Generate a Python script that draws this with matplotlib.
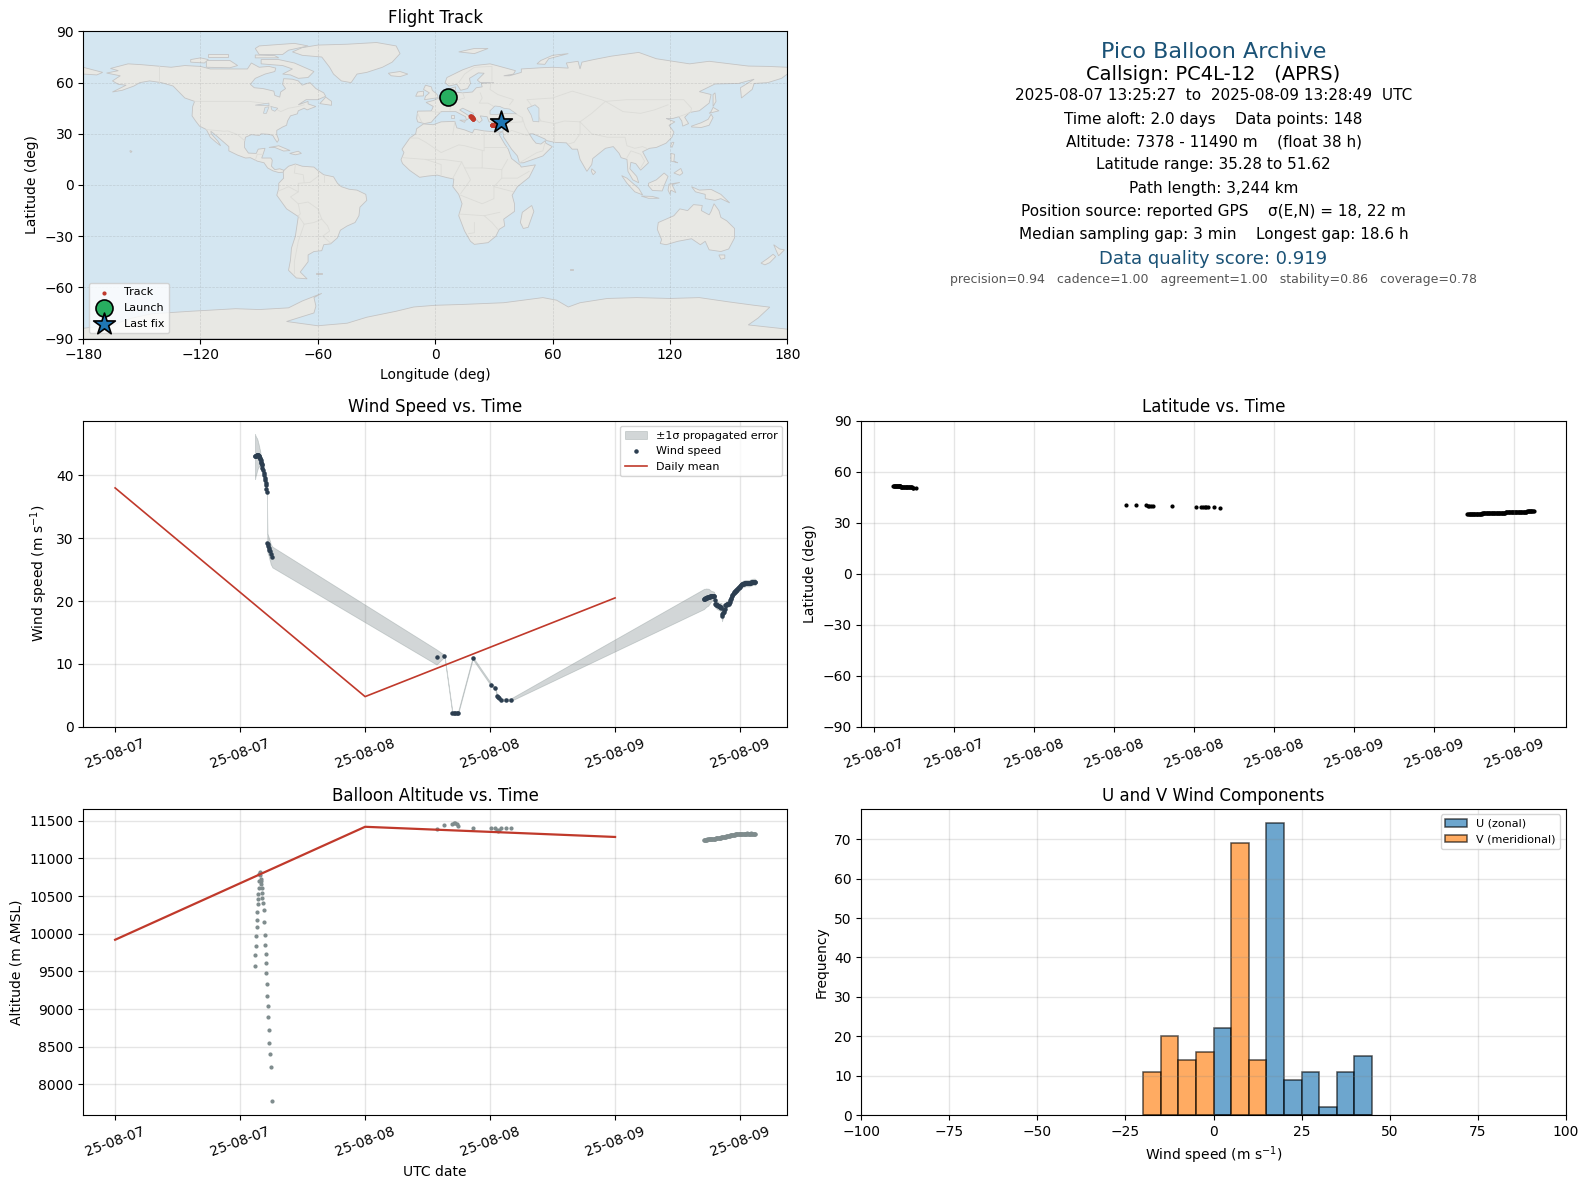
import numpy as np
import matplotlib
matplotlib.use("Agg")
import matplotlib.pyplot as plt
import matplotlib.dates as mdates
from matplotlib.patches import Polygon

# ---------- flight data (hours after 2025-08-07 00:00 UTC) ----------
hours_ascent = [13.43,13.46,13.49,13.53,13.58,13.62,13.66,13.70,13.73,13.76,13.80,13.83,13.86,13.90,
    13.93,13.96,14.00,14.03,14.06,14.10,14.15,14.20,14.25,14.30,14.35,14.40,14.44,14.48,14.52,14.57,
    14.62,14.67,14.72,14.77,14.82,14.88,14.93,15.10]
hours_mid = [30.86,31.62,32.38,32.50,32.62,32.78,32.92,34.33,36.10,36.48,36.68,36.80,36.90,37.05,37.50,37.97]
hours_float = [56.50,56.55,56.61,56.66,56.71,56.77,56.82,56.87,56.93,56.98,57.03,57.09,57.14,57.19,57.25,57.30,57.35,57.41,57.46,57.51,
    57.57,57.62,57.67,57.73,57.78,57.83,57.89,57.94,57.99,58.05,58.10,58.15,58.21,58.26,58.31,58.37,58.42,58.47,58.53,58.58,
    58.63,58.69,58.74,58.79,58.85,58.90,58.95,59.01,59.06,59.11,59.17,59.22,59.27,59.33,59.38,59.43,59.49,59.54,59.59,59.65,
    59.70,59.75,59.81,59.86,59.91,59.97,60.02,60.07,60.13,60.18,60.23,60.29,60.34,60.39,60.45,60.50,60.55,60.61,60.66,60.71,
    60.77,60.82,60.87,60.93,60.98,61.03,61.09,61.14,61.19,61.25,61.30,61.35,61.41,61.47]

wind_ascent = [43.0,43.0,43.1,43.1,43.2,43.3,43.3,43.3,43.2,43.2,43.1,43.0,42.9,42.8,42.6,42.4,42.2,42.0,41.8,41.6,41.2,40.8,40.4,40.0,
    39.6,39.2,38.8,38.4,37.9,37.4,29.3,29.0,28.8,28.5,28.2,27.9,27.5,27.0]
wind_mid = [11.1,11.27,2.2,2.2,2.15,2.2,2.2,10.95,6.7,6.2,4.9,4.7,4.5,4.29,4.29,4.29]
wind_float = [20.3,20.35,20.4,20.45,20.5,20.55,20.55,20.6,20.6,20.65,20.7,20.7,20.75,20.75,20.8,20.8,20.85,20.85,20.8,20.75,
    20.2,19.6,19.5,19.4,19.35,19.3,19.25,19.2,19.15,19.1,19.05,19.0,18.9,17.7,17.9,18.1,18.3,18.5,18.8,19.3,
    19.4,19.45,19.5,19.55,19.6,19.6,19.65,19.8,20.1,20.4,20.5,20.8,21.0,21.2,21.3,21.4,21.5,21.55,21.6,21.7,
    21.8,21.9,22.0,22.1,22.2,22.3,22.4,22.5,22.6,22.65,22.7,22.75,22.75,22.8,22.8,22.85,22.85,22.85,22.85,22.85,
    22.85,22.8,22.85,22.9,22.9,22.95,23.0,23.0,23.05,23.05,23.07,23.07,23.05,23.0]

sigma_ascent = [3.6,3.4,3.2,3.0,2.8,2.6,2.4,2.2,2.0,1.9,1.7,1.6,1.4,1.3,1.2,1.1,1.0,0.9,0.8,0.7,0.6,0.5,0.45,0.4,0.35,0.3,0.3,0.3,0.3,0.3,
    1.5,1.5,1.5,1.5,1.6,1.6,1.6,1.65]
sigma_mid = [1.2,0.15,0.2,0.2,0.2,0.2,0.2,0.2,0.2,0.2,0.2,0.2,0.2,0.2,0.2,0.2]
sigma_float = [1.6,1.6,1.55,1.5,1.5,1.45,1.4,1.4,1.35,1.3,1.2,1.1,1.0,0.9,0.8,0.8,0.7,0.7,0.7,0.7,
    0.6,0.6,0.6,0.6,0.6,0.6,0.6,0.6,0.6,0.6,0.6,0.7,0.8,0.9,0.8,0.7,0.6,0.5,0.5,0.5,
    0.5,0.5,0.5,0.5,0.5,0.5,0.5,0.5,0.5,0.5,0.5,0.5,0.5,0.5,0.5,0.5,0.5,0.5,0.5,0.5,
    0.5,0.5,0.5,0.5,0.5,0.5,0.5,0.5,0.5,0.5,0.5,0.5,0.5,0.5,0.5,0.5,0.5,0.5,0.5,0.5,
    0.5,0.5,0.5,0.5,0.5,0.5,0.5,0.5,0.5,0.5,0.5,0.5,0.5,0.5]

alt_ascent = [9569,9715,9835,9968,10088,10181,10287,10394,10460,10527,10606,10700,10793,10824,
    10779,10730,10700,10660,10606,10540,10473,10407,10314,10154,9981,9848,9729,9609,9476,9330,9170,9037,8891,8718,8545,8399,8226,7778]
alt_mid = [11385,11442,11455,11469,11473,11455,11429,11403,11403,11403,11380,11358,11376,11403,11403,11403]
alt_float = [11245,11245,11248,11250,11248,11250,11252,11250,11252,11255,11253,11255,11257,11258,11256,11258,11260,11260,11262,11264,
    11262,11264,11266,11268,11266,11268,11270,11272,11270,11272,11274,11276,11278,11280,11278,11282,11284,11286,11288,11290,
    11290,11292,11294,11296,11298,11300,11302,11304,11306,11308,11308,11310,11312,11310,11314,11316,11318,11316,11320,11322,
    11320,11322,11324,11322,11324,11326,11328,11326,11328,11330,11326,11324,11326,11328,11326,11324,11326,11328,11330,11332,
    11330,11328,11326,11328,11330,11332,11330,11328,11326,11328,11326,11328,11326,11324]

lat_ascent = [51.62,51.60,51.58,51.56,51.55,51.53,51.50,51.48,51.47,51.45,51.43,51.40,51.38,51.35,51.33,51.30,51.28,51.25,51.23,51.20,
    51.18,51.15,51.12,51.10,51.07,51.05,51.02,51.00,50.97,50.94,50.90,50.86,50.82,50.78,50.72,50.66,50.60,50.45]
lat_mid = [40.6,40.5,40.15,40.1,40.05,40.0,39.95,39.6,39.1,39.05,39.0,38.95,38.95,39.0,38.95,38.9]
lat_float = [35.30,35.28,35.28,35.29,35.30,35.30,35.31,35.31,35.32,35.32,35.33,35.33,35.34,35.35,35.35,35.36,35.37,35.37,35.38,35.39,
    35.40,35.41,35.42,35.43,35.44,35.45,35.46,35.47,35.48,35.50,35.52,35.54,35.56,35.58,35.60,35.62,35.64,35.66,35.68,35.70,
    35.72,35.74,35.76,35.78,35.80,35.82,35.84,35.86,35.88,35.90,35.92,35.94,35.96,35.98,36.00,36.02,36.04,36.06,36.08,36.10,
    36.12,36.14,36.16,36.18,36.20,36.22,36.24,36.26,36.28,36.30,36.32,36.34,36.36,36.38,36.40,36.42,36.44,36.46,36.48,36.50,
    36.52,36.54,36.56,36.58,36.60,36.62,36.64,36.66,36.68,36.70,36.72,36.74,36.76,36.78]

lon_ascent = [6.7,6.75,6.8,6.85,6.9,6.95,7.0,7.05,7.1,7.15,7.2,7.25,7.3,7.35,7.4,7.45,7.5,7.55,7.6,7.65,7.7,7.75,7.8,7.85,
    7.9,7.95,8.0,8.05,8.1,8.15,8.2,8.3,8.4,8.5,8.6,8.7,8.8,9.0]
lon_mid = [18.0,18.2,18.4,18.5,18.5,18.6,18.6,18.8,19.0,19.0,19.1,19.1,19.1,19.2,19.2,19.3]
lon_float = [29.0,29.05,29.1,29.15,29.2,29.25,29.3,29.35,29.4,29.45,29.5,29.55,29.6,29.65,29.7,29.75,29.8,29.85,29.9,29.95,
    30.0,30.05,30.1,30.15,30.2,30.25,30.3,30.35,30.4,30.45,30.5,30.55,30.6,30.65,30.7,30.75,30.8,30.85,30.9,30.95,
    31.0,31.05,31.1,31.15,31.2,31.25,31.3,31.35,31.4,31.45,31.5,31.55,31.6,31.65,31.7,31.75,31.8,31.85,31.9,31.95,
    32.0,32.05,32.1,32.15,32.2,32.25,32.3,32.35,32.4,32.45,32.5,32.55,32.6,32.65,32.7,32.75,32.8,32.85,32.9,32.95,
    33.0,33.05,33.1,33.15,33.2,33.25,33.3,33.35,33.4,33.45,33.5,33.55,33.6,33.7]

daily_dates = ["2025-08-07", "2025-08-08", "2025-08-09"]
daily_wind = [38.0, 4.8, 20.5]
daily_alt = [9920, 11420, 11285]

hist_edges = [-20,-15,-10,-5,0,5,10,15,20,25,30,35,40,45]
hist_u = [0,0,0,0,22,0,0,74,9,11,2,11,15]
hist_v = [11,20,14,16,0,69,14,0,0,0,0,0,0]

summary_lines = [
    ("Pico Balloon Archive", 16, "#1a5276", 51.5),
    ("Callsign: PC4L-12   (APRS)", 14, "black", 73.5),
    ("2025-08-07 13:25:27  to  2025-08-09 13:28:49  UTC", 11, "black", 94.5),
    ("Time aloft: 2.0 days    Data points: 148", 11, "black", 117.5),
    ("Altitude: 7378 - 11490 m    (float 38 h)", 11, "black", 140.5),
    ("Latitude range: 35.28 to 51.62", 11, "black", 162.5),
    ("Path length: 3,244 km", 11, "black", 185.5),
    ("Position source: reported GPS    σ(E,N) = 18, 22 m", 11, "black", 208.5),
    ("Median sampling gap: 3 min    Longest gap: 18.6 h", 11, "black", 231.5),
    ("Data quality score: 0.919", 13, "#1a5276", 255.5),
    ("precision=0.94   cadence=1.00   agreement=1.00   stability=0.86   coverage=0.78", 9, "#555555", 275.5),
]

# ---------- coarse world outlines (lon, lat) ----------
north_america = [(-168,65.6),(-162,67),(-166,68.3),(-157,71),(-150,70.5),(-141,69.6),(-135,69),(-128,70),(-120,69.5),(-115,68),(-108,68),(-100,68),(-96,68),(-94,71.5),(-90,69),(-85,69.5),(-81.5,68.5),(-82,66.5),(-87,65),(-92,62.5),(-94.5,59),(-92.5,57),(-88,56.5),(-82.5,55),(-82,52.5),(-79.5,51.5),(-79,54.5),(-76.5,56.5),(-78,59),(-77.5,62.3),(-73,62),(-70,61),(-68,58.5),(-65.5,59.5),(-64,60),(-61,56.5),(-57,54),(-56,52),(-60,50),(-66,50),(-70,47),(-65,49),(-65,47.5),(-61,46),(-65.5,44),(-67,45),(-70,43.5),(-70.5,41.7),(-74,40.5),(-75.5,37.5),(-76,35),(-78,34),(-81,32),(-81,29.5),(-80,26.5),(-80.8,25),(-82,27),(-83,29),(-85,29.7),(-89,30),(-90,29),(-94,29.5),(-97,28),(-97.5,25),(-97.5,22),(-95.5,18.7),(-91.5,18.5),(-90.5,21),(-87,21.5),(-88,18),(-88.7,15.8),(-84,15.8),(-83.3,14.5),(-83.7,11),(-82,9),(-79.5,9.5),(-77.3,8.6),(-77.7,7.5),(-80,7.3),(-83,8.3),(-85.7,10),(-87.5,13),(-91,14),(-94.5,16),(-97,15.8),(-101,17.5),(-105.5,20),(-105.5,22.5),(-109,26),(-112.5,29.5),(-114.7,31.5),(-114.5,30),(-111,25.5),(-109.7,23),(-112,25),(-115,28),(-117,32.5),(-120.5,34.5),(-122.5,37.5),(-124.3,40.5),(-124,46),(-123,49),(-128,51),(-131,54.5),(-134,58),(-140,60),(-146,61),(-151,60),(-154,58),(-160,55.5),(-165,54.5),(-158,58.5),(-162,59),(-165,61),(-161,64)]
greenland = [(-73,78),(-68,80.5),(-60,82),(-45,82.5),(-30,83.5),(-20,81.5),(-18,77),(-22,72),(-27,69),(-35,66),(-40,65),(-43,60),(-48,61),(-52,65),(-54,69),(-58,75),(-68,76)]
baffin = [(-80,73.5),(-72,71.5),(-67,69),(-62,66.5),(-65,63),(-70,62.5),(-74,64.5),(-78,65),(-73,68),(-78,70),(-89,71),(-89,73.5)]
ellesmere = [(-90,76.5),(-78,76.5),(-75,79),(-65,81.5),(-72,83),(-90,81.5),(-92,80)]
victoria = [(-117,69),(-105,68.7),(-101,70),(-105,73),(-117,73)]
banks = [(-125,72),(-118,71.5),(-116,73.5),(-120,74.5),(-125,73.5)]
devon = [(-92,74.5),(-80,74.5),(-82,75.8),(-92,76.2)]
melville = [(-116,75),(-106,75),(-106,76.5),(-116,76.5)]
newfoundland = [(-59,47.7),(-53,46.7),(-53,49),(-56,51.5)]
cuba = [(-85,22),(-80,23),(-74.2,20.2),(-77.5,19.9),(-82,22)]
hispaniola = [(-74.4,18.5),(-70,19.8),(-68.4,18.5),(-71.5,17.7)]
hawaii = [(-156,20.2),(-155,19.7),(-155.6,19),(-156,19.5)]
south_america = [(-77.3,8.6),(-75,11),(-71.5,12.3),(-68,11),(-62,10.5),(-60,8.5),(-57,6),(-52,4.8),(-50,1),(-48,-1),(-44,-2.5),(-40,-3),(-35.5,-5.5),(-35,-9),(-38.5,-13),(-39,-18),(-41,-22),(-45,-24),(-48.5,-26.5),(-50,-31),(-53.5,-34.5),(-57,-35),(-58,-38.5),(-62,-39),(-65,-41),(-65,-45),(-69,-51),(-65.5,-55),(-71,-54.5),(-75,-50),(-74,-44),(-73.5,-37),(-71.5,-30),(-70,-18.5),(-76,-14),(-81,-6),(-80,-2),(-80,1),(-77.5,4),(-77.7,7.5)]
falklands = [(-61,-51.5),(-58,-51.5),(-58,-52.3),(-61,-52.3)]
africa = [(-6,35.8),(-1,35.3),(3,37),(10,37.3),(11,33.5),(15,32.3),(19,30.5),(20,32.7),(25,31.7),(32,31),(34.3,31.3),(32.5,29.9),(35.5,24),(37.3,21),(39,15.5),(43.3,11.7),(44,10.5),(51.2,11.8),(48,4.5),(42,-1),(39.3,-6),(40.5,-11),(40.5,-15.5),(35,-20),(35.5,-24),(32.7,-26),(31,-30),(27,-33.8),(20,-34.8),(18,-33),(15,-27),(12,-18),(13.7,-11),(12,-5.5),(9,-1),(9.5,3.5),(6,4.3),(1,5.8),(-4,5.2),(-8,4.5),(-13,8.5),(-16.7,12.5),(-17.5,14.8),(-16,19),(-17,21),(-13,27.5),(-10,30),(-9.5,33)]
madagascar = [(49.3,-12),(50.4,-15.5),(47.5,-24.8),(45,-25.5),(43.5,-22),(44.5,-16)]
eurasia = [(-9,37),(-9.5,39),(-9,43.3),(-2,43.4),(-1,46),(-4.7,48.4),(-1,49.5),(2,51),(4,52),(8,54),(8.5,57),(10.5,57.5),(10,54.5),(14,54),(19,54.5),(21,57),(24,57.5),(23.5,59.5),(30,60),(23,60),(21.5,61.5),(25,65.5),(22,65.7),(17.5,62.5),(18,59.5),(16.5,56.5),(13,55.5),(11,59),(7,58),(5,60),(6,63),(14,67.5),(20,70),(28,71),(32,69.8),(41,67),(40,65),(35,64),(38,64),(44,66),(44,68),(54,68.7),(60,69),(68,68.5),(67,71.5),(73,72.5),(74,68),(75,72),(81,73.5),(90,75.5),(104,77.7),(113,74),(130,71),(140,72.5),(160,69.7),(170,69.5),(180,69),(180,65),(177,62.5),(170,60),(163,59.5),(162,56),(156.5,51),(156,57),(163,62),(155,59.5),(143,59.2),(135,54.7),(141,53),(140,48),(135,43.5),(130,42.5),(127.5,39.7),(129.5,36),(126.5,34.5),(126,37.5),(124.5,40),(121.5,39),(118,39),(122.5,37),(119.5,35),(122,31),(121,28),(118,24.5),(113,22),(109.5,21.5),(106,19.5),(109,13),(105,8.7),(102.5,12.5),(100,13.3),(99.5,9.5),(103,5),(104,1.3),(101,3),(98.5,8),(98,15),(95,16),(94,18.5),(91,22.5),(87,21.5),(80.5,15.5),(80,12),(77.5,8),(74,15),(72.7,21),(70,21),(67,24.7),(61,25),(57,26),(56,27),(50,30),(48,30),(50,26.5),(51.5,24.5),(54,24),(56.3,26),(56.5,24.5),(59.8,22.5),(55,17),(45,13),(43,13),(42,17),(39,21),(35,28),(34.5,31.5),(36,36),(32,36),(27.5,37),(26.5,40),(23,40.5),(24,38),(22.5,36.5),(20,39.5),(19.5,42),(14,45),(12.5,44),(18,40),(16,38),(15.5,40),(10.5,43),(6,43),(3,43),(0,39.5),(-2,36.8),(-5.5,36)]
chukotka_west = [(-180,69),(-170,66),(-173,64.5),(-180,65)]
britain = [(-5.5,50),(1.5,51.2),(1,53),(-1.5,55.5),(-2,57.5),(-5,58.5),(-6,56),(-3,54),(-5,52)]
ireland = [(-10,52),(-6,52.2),(-6,55),(-9,54.5)]
iceland = [(-24,65.5),(-18,66.5),(-14,65),(-18,63.5),(-22.5,64)]
svalbard = [(12,78),(20,80),(27,80),(20,77)]
novaya_zemlya = [(52,71),(56,70.7),(58,74),(68,77),(60,76),(54,73)]
sakhalin = [(142,46),(143.5,49),(143,54),(142,53),(142,48)]
honshu = [(131,34),(136,33.7),(140,35),(142,39.5),(141,41.5),(139.5,38.5),(136,36.5),(131,34.5)]
hokkaido = [(140,42),(145,43.5),(142,45.5),(141,43)]
taiwan = [(120.3,23),(121,22),(122,25),(121,25)]
sri_lanka = [(80,9.5),(82,7.5),(80.7,6),(79.8,8)]
sumatra = [(95.3,5.5),(98,4),(104,-2),(106,-5.8),(102,-4),(98,1)]
java = [(105.3,-6.5),(111,-6.7),(114.5,-7.8),(109,-7.8)]
borneo = [(109,1),(113,3),(117,7),(119,5),(117.5,1),(116,-3.5),(111,-3.2),(109,-0.5)]
sulawesi = [(119.5,0.5),(125,1.5),(121,0.2),(123,-4.5),(120.5,-3),(120,-5.5),(119,-3)]
luzon = [(120.5,18.5),(122.3,18),(122,14),(124,13),(120.5,14)]
mindanao = [(122,7),(125.5,9.7),(126.5,7),(125,5.7)]
new_guinea = [(131,-1),(135,-3),(141,-2.6),(146,-5.5),(150.5,-10.5),(146,-8),(143,-9),(138,-8),(138,-5.5),(133,-4)]
australia = [(114,-22),(113.5,-26),(115.7,-32),(115,-34.3),(118,-35),(124,-33),(131,-31.5),(135.5,-35),(138,-33),(140,-38),(146,-39),(150,-37.5),(153,-31),(153,-25.5),(149,-21),(146,-19),(145,-15),(142.5,-11),(141,-15.5),(140,-17.5),(136,-15),(136.5,-12),(132,-11.5),(129,-15),(125,-14),(122,-18)]
tasmania = [(145,-41),(148,-41),(148,-43),(146,-43.5)]
nz_north = [(173,-35),(176,-37.5),(178.5,-38),(175.5,-41.5),(174.5,-39)]
nz_south = [(172.7,-40.6),(174,-42),(171,-45.5),(168.5,-46.8),(166.5,-45.8),(170,-43)]
kerguelen = [(69,-49),(70.5,-49),(70.5,-49.8),(69,-49.8)]
sardinia = [(8.2,39),(9.7,39),(9.7,41),(8.2,41)]
sicily = [(12.5,38),(15.5,38),(15,36.7)]
antarctica = [(-180,-90),(-180,-84),(-165,-82),(-155,-78),(-145,-75.5),(-125,-74),(-102,-72.5),(-90,-73),(-75,-72),(-68,-68),(-58,-63.5),(-62,-66),(-61,-71),(-62,-75),(-76,-80),(-60,-82.5),(-45,-81),(-35,-77.5),(-20,-74),(-11,-71.5),(0,-70.5),(14,-70),(35,-69),(55,-66),(62,-67.5),(68,-71.5),(74,-69),(88,-66.5),(103,-66),(120,-66.5),(135,-66),(150,-68.5),(163,-70.5),(171,-71.6),(165,-78),(160,-82),(176,-84),(180,-84.5),(180,-90)]
land_polygons = [north_america,greenland,baffin,ellesmere,victoria,banks,devon,melville,newfoundland,cuba,hispaniola,hawaii,
    south_america,falklands,africa,madagascar,eurasia,chukotka_west,britain,ireland,iceland,svalbard,novaya_zemlya,sakhalin,honshu,hokkaido,
    taiwan,sri_lanka,sumatra,java,borneo,sulawesi,luzon,mindanao,new_guinea,australia,tasmania,nz_north,nz_south,kerguelen,sardinia,sicily,antarctica]
black_sea = [(28,41.5),(31,41.2),(35,42),(41.5,41.7),(38,44.5),(35,45),(33,46),(30.5,46.3),(28,43.5)]
caspian = [(47,45),(51,47),(53,45),(53,37),(50,37.3),(49,41)]
lake_superior = [(-92,46.8),(-85,48),(-85,46.5)]
lake_michigan = [(-87.8,42),(-86.3,42),(-85,45.8),(-87,45.5)]
lake_huron = [(-84,46),(-80.5,45),(-82,43.2),(-83.5,44)]
water_polygons = [black_sea,caspian,lake_superior,lake_michigan,lake_huron]
borders = [
    [(-123,49),(-95,49),(-88,48),(-82,45),(-79,43),(-75,45),(-70,46),(-67,47)],[(-141,69.6),(-141,60)],
    [(-117,32.5),(-108,31.5),(-106,31.7),(-101,29.5),(-97.5,26)],[(-92,14.5),(-91,18),(-88,18)],
    [(-60,5),(-64,1.5),(-70,1),(-70,-4),(-74,-7),(-70,-11),(-65,-10),(-60,-14),(-58,-20),(-55,-24),(-54,-27),(-57.5,-30),(-53.5,-34)],
    [(-70,-18),(-67,-23),(-70,-33),(-72,-45),(-72,-52)],[(-71.5,12),(-72,7),(-67.5,6),(-67,1.5)],[(-80,-3.5),(-75,-1),(-70,-4)],[(-70,-11),(-69,-17),(-70,-18)],
    [(-60,8.5),(-60,5)],[(-58,-20),(-62,-22),(-67,-23)],[(-57,6),(-57,2)],
    [(-13,27.5),(-8.7,27.5),(-4.8,25),(3,19),(12,23.5),(15,23),(25,20),(25,31.7)],[(25,22),(36.5,22)],
    [(-16.5,16),(-5,15),(4,15),(13.5,13.5),(15,10),(24,10),(24,20)],[(24,10),(34,9),(34,4),(42,4),(48,8)],
    [(30,-1),(30,-8),(24,-11),(13,-6)],[(12,-17),(25,-18),(33,-16)],[(20,-22),(20,-28),(17,-28.5)],[(25,-18),(29,-22),(32,-26)],
    [(3,5.9),(3,12),(-5,15)],[(9,4),(13.5,13.5)],[(9,30),(10,37)],[(34,4),(30,-1),(40,-4)],[(34,9),(37,15)],[(15,10),(18,3),(13,-5)],
    [(47,50),(60,51),(70,55),(85,50),(87,49),(98,50),(107,50),(119,50),(127,50),(131,45),(130.5,42.5)],
    [(87,49),(96,43),(105,42),(112,44),(119,47)],[(74,37),(80,30),(88,28),(97,28),(98,23),(102,21.5),(106,22.5),(108,21.5)],
    [(74,37),(74,30),(71,25),(68,24)],[(61,25),(61,30),(61,36),(54,37.5)],[(48,30),(46,34),(44.5,39.5)],
    [(36,36.5),(44.5,37),(44.5,39.5),(41.5,41.5)],[(35,29),(39,32),(47,29),(48,30)],[(43,13),(52,19),(55,20),(56,24.5)],
    [(23,54),(24,51),(22.5,48),(27,48),(30,46)],[(28.5,60),(28,56),(32,53),(40,50),(38,47)],[(14,54),(15,51),(12,50),(8,48),(7.5,44)],
    [(2.5,51),(8,49)],[(-1.5,43),(3,42.5)],[(-9,42),(-7,37)],[(98,16),(100,20),(105,18),(107,14),(105,10)],
    [(12,60),(15,65),(20,69),(29,69.5),(29,61)],[(61,36),(66,37.5),(74,37)],[(74,37),(80,42),(87,49)],[(54,37.5),(52,42),(47,50)],[(124.5,40),(130.5,42.5)],
]

launch_point = (lon_ascent[0], lat_ascent[0])
last_point = (lon_float[-1], 37.1)

# ---------- helpers ----------
def to_dates(hours):
    return np.datetime64("2025-08-07T00:00:00") + (np.asarray(hours) * 3600).astype("timedelta64[s]")

hours = np.array(hours_ascent + hours_mid + hours_float)
times = to_dates(hours)
wind = np.array(wind_ascent + wind_mid + wind_float)
sigma = np.array(sigma_ascent + sigma_mid + sigma_float)
alt = np.array(alt_ascent + alt_mid + alt_float)
lat = np.array(lat_ascent + lat_mid + lat_float)
lon = np.array(lon_ascent + lon_mid + lon_float)
days = np.array(daily_dates, dtype="datetime64[s]")

W, H = 1569.0, 1173.0
fig = plt.figure(figsize=(15.9, 11.89), dpi=100)
def make_ax(x0, x1, ytop, ybot):
    return fig.add_axes([x0 / W, 1 - ybot / H, (x1 - x0) / W, (ybot - ytop) / H])
ax_map = make_ax(82, 777, 31, 334)
ax_wind = make_ax(82, 777, 415, 717)
ax_lat = make_ax(850, 1545, 415, 717)
ax_alt = make_ax(82, 777, 798, 1100)
ax_hist = make_ax(850, 1545, 798, 1100)

RED = "#c0392b"
GRID = dict(color="gray", alpha=0.2, linewidth=1.0)

# map
ax_map.set_facecolor("#d4e6f1")
for poly in land_polygons:
    ax_map.add_patch(Polygon(poly, closed=True, facecolor="#e8e8e4", edgecolor="#c4c4c4", linewidth=0.6, zorder=1))
for poly in water_polygons:
    ax_map.add_patch(Polygon(poly, closed=True, facecolor="#d4e6f1", edgecolor="#c4c4c4", linewidth=0.5, zorder=1.2))
for line in borders:
    xs, ys = zip(*line)
    ax_map.plot(xs, ys, color="#dcdcd8", linewidth=0.6, zorder=1.1)
ax_map.grid(True, color="gray", alpha=0.25, linewidth=0.5, linestyle="--", zorder=1.5)
ax_map.scatter(lon, lat, s=4, color=RED, label="Track", zorder=3)
ax_map.scatter(*launch_point, s=150, color="#27ae60", edgecolors="black", linewidths=1.2, label="Launch", zorder=4)
ax_map.scatter(*last_point, s=270, marker="*", color="#1f77b4", edgecolors="black", linewidths=1.2, label="Last fix", zorder=5)
ax_map.set_xlim(-180, 180)
ax_map.set_ylim(-90, 90)
ax_map.set_xticks(np.arange(-180, 181, 60))
ax_map.set_yticks(np.arange(-90, 91, 30))
ax_map.set_xlabel("Longitude (deg)")
ax_map.set_ylabel("Latitude (deg)")
ax_map.set_title("Flight Track")
ax_map.legend(loc="lower left", fontsize=8)

# text panel
for text, size, color, ypx in summary_lines:
    fig.text(1197.5 / W, 1 - ypx / H, text, fontsize=size, color=color, ha="center", va="center")

def fmt_time(ax, byhour):
    ax.xaxis.set_major_locator(mdates.HourLocator(byhour=byhour))
    ax.xaxis.set_major_formatter(mdates.DateFormatter("%y-%m-%d"))
    ax.tick_params(axis="x", labelrotation=20)

# wind
ax_wind.fill_between(times, wind - sigma, wind + sigma, color="#7f8c8d", alpha=0.35, linewidth=0.6, label="±1σ propagated error")
ax_wind.scatter(times, wind, s=5, color="#2c3e50", label="Wind speed", zorder=3)
ax_wind.plot(days, daily_wind, color=RED, linewidth=1.2, label="Daily mean", zorder=2)
ax_wind.set_ylim(0, 48.7)
ax_wind.set_yticks(np.arange(0, 41, 10))
ax_wind.set_ylabel("Wind speed (m s$^{-1}$)")
ax_wind.set_title("Wind Speed vs. Time")
ax_wind.grid(True, **GRID)
ax_wind.legend(loc="upper right", fontsize=8)
fmt_time(ax_wind, [0, 12])

# latitude
ax_lat.scatter(times, lat, s=4, color="black")
ax_lat.set_ylim(-90, 90)
ax_lat.set_yticks(np.arange(-90, 91, 30))
ax_lat.set_ylabel("Latitude (deg)")
ax_lat.set_title("Latitude vs. Time")
ax_lat.grid(True, **GRID)
fmt_time(ax_lat, [0, 6, 12, 18])

# altitude
ax_alt.scatter(times, alt, s=4, color="#7f8c8d")
ax_alt.plot(days, daily_alt, color=RED, linewidth=1.6)
ax_alt.set_ylabel("Altitude (m AMSL)")
ax_alt.set_xlabel("UTC date")
ax_alt.set_title("Balloon Altitude vs. Time")
ax_alt.grid(True, **GRID)
fmt_time(ax_alt, [0, 12])

# histogram
edges = np.array(hist_edges, dtype=float)
lefts, widths = edges[:-1], np.diff(edges)
ax_hist.bar(lefts, hist_u, width=widths, align="edge", color="#1f77b4", alpha=0.65, edgecolor="black", linewidth=1.1, label="U (zonal)")
ax_hist.bar(lefts, hist_v, width=widths, align="edge", color="#ff7f0e", alpha=0.65, edgecolor="black", linewidth=1.1, label="V (meridional)")
ax_hist.set_xlim(-100, 100)
ax_hist.set_ylabel("Frequency")
ax_hist.set_xlabel("Wind speed (m s$^{-1}$)")
ax_hist.set_title("U and V Wind Components")
ax_hist.grid(True, **GRID)
ax_hist.legend(loc="upper right", fontsize=8)

fig.savefig("out.png", dpi=100)
